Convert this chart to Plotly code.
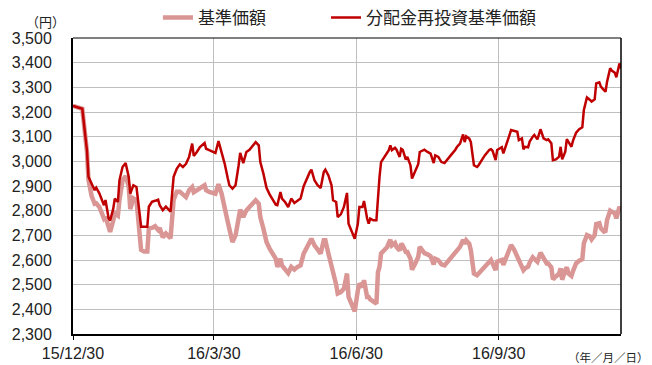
import plotly.graph_objects as go

dates = [
"2015-12-30","2016-01-05","2016-01-07","2016-01-08","2016-01-09","2016-01-11","2016-01-13","2016-01-14","2016-01-16","2016-01-19",
"2016-01-20","2016-01-22","2016-01-23","2016-01-25","2016-01-26","2016-01-28","2016-01-29","2016-01-31","2016-02-02","2016-02-04",
"2016-02-05","2016-02-07","2016-02-09","2016-02-10","2016-02-12","2016-02-14","2016-02-16","2016-02-17","2016-02-19","2016-02-21",
"2016-02-23","2016-02-24","2016-02-26","2016-02-28","2016-03-02","2016-03-04","2016-03-06","2016-03-08","2016-03-10","2016-03-12",
"2016-03-14","2016-03-16","2016-03-17","2016-03-19","2016-03-21","2016-03-24","2016-03-25","2016-03-27","2016-03-31","2016-04-02",
"2016-04-04","2016-04-06","2016-04-08","2016-04-09","2016-04-11","2016-04-13","2016-04-15","2016-04-16","2016-04-18","2016-04-20",
"2016-04-22","2016-04-24","2016-04-26","2016-04-28","2016-04-29","2016-05-01","2016-05-03","2016-05-05","2016-05-07","2016-05-09",
"2016-05-10","2016-05-12","2016-05-13","2016-05-15","2016-05-17","2016-05-19","2016-05-21","2016-05-23","2016-05-25","2016-05-27",
"2016-05-29","2016-05-31","2016-06-01","2016-06-03","2016-06-05","2016-06-07","2016-06-09","2016-06-10","2016-06-12","2016-06-14",
"2016-06-15","2016-06-17","2016-06-18","2016-06-20","2016-06-22","2016-06-24","2016-06-25","2016-06-27","2016-06-29","2016-07-01",
"2016-07-02","2016-07-04","2016-07-05","2016-07-07","2016-07-08","2016-07-09","2016-07-11","2016-07-13","2016-07-14","2016-07-15",
"2016-07-16","2016-07-18","2016-07-20","2016-07-21","2016-07-22","2016-07-23","2016-07-25","2016-07-26","2016-07-28","2016-07-29",
"2016-07-30","2016-08-01","2016-08-02","2016-08-04","2016-08-05","2016-08-07","2016-08-09","2016-08-10","2016-08-13","2016-08-15",
"2016-08-17","2016-08-19","2016-08-20","2016-08-22","2016-08-24","2016-08-26","2016-08-28","2016-08-30","2016-09-02","2016-09-03",
"2016-09-05","2016-09-07","2016-09-08","2016-09-09","2016-09-11","2016-09-12","2016-09-14","2016-09-16","2016-09-17","2016-09-19",
"2016-09-21","2016-09-24","2016-09-25","2016-09-26","2016-09-28","2016-09-29","2016-10-02","2016-10-03","2016-10-05","2016-10-07",
"2016-10-08","2016-10-10","2016-10-12","2016-10-13","2016-10-15","2016-10-16","2016-10-17","2016-10-19","2016-10-20","2016-10-22",
"2016-10-23","2016-10-25","2016-10-27","2016-10-29","2016-10-31","2016-11-01","2016-11-03","2016-11-04","2016-11-06","2016-11-08",
"2016-11-09","2016-11-10","2016-11-12","2016-11-13","2016-11-14","2016-11-16","2016-11-17","2016-11-19","2016-11-21","2016-11-23",
"2016-11-24","2016-11-26","2016-11-28","2016-11-29","2016-12-01","2016-12-02","2016-12-04","2016-12-05","2016-12-07","2016-12-08",
"2016-12-09","2016-12-11","2016-12-12","2016-12-14","2016-12-15","2016-12-16","2016-12-17","2016-12-18",
]

reinvested_nav = [
3225,3213,3100,3045,2937,2910,2883,2893,2870,2822,
2843,2769,2760,2808,2849,2835,2923,2977,2993,2937,
2869,2903,2896,2843,2735,2735,2735,2816,2836,2840,
2845,2822,2802,2816,2796,2937,2970,2988,2977,2990,
3018,3072,3022,3038,3058,3074,3051,3045,3034,3082,
3038,2990,2930,2903,2889,2903,2984,3034,2993,3038,
3047,3065,3078,3065,2997,2950,2893,2866,2842,2824,
2822,2876,2849,2835,2815,2849,2831,2839,2849,2899,
2930,2957,2966,2923,2903,2892,2957,2966,2943,2903,
2842,2835,2774,2785,2815,2872,2747,2720,2686,2747,
2815,2815,2839,2768,2747,2768,2761,2761,2869,2936,
2997,3018,3034,3045,3065,3045,3055,3047,3018,3051,
3047,3007,3018,2984,2930,2957,2988,3038,3047,3038,
3031,2993,3024,3018,2997,2993,3011,3024,3047,3058,
3072,3109,3078,3101,3092,3078,2984,2977,2984,3004,
3024,3047,3049,3043,3005,3046,3057,3032,3066,3107,
3127,3124,3120,3086,3093,3049,3059,3057,3080,3100,
3107,3089,3130,3093,3086,3089,3073,3005,3008,3019,
3059,3008,3039,3090,3080,3059,3084,3116,3130,3138,
3208,3259,3249,3242,3251,3316,3320,3303,3289,3282,
3323,3377,3368,3359,3341,3370,3397,3377,
]

nav = [
3225,3213,3098,3040,2925,2860,2828,2830,2815,2768,
2775,2722,2714,2760,2789,2780,2843,2923,2940,2897,
2806,2850,2843,2776,2641,2634,2634,2728,2730,2737,
2722,2730,2692,2708,2688,2843,2877,2877,2863,2855,
2883,2896,2875,2883,2896,2903,2883,2876,2869,2907,
2869,2801,2754,2727,2673,2700,2760,2804,2774,2801,
2815,2831,2842,2828,2774,2727,2673,2646,2626,2605,
2572,2605,2578,2565,2547,2572,2561,2572,2578,2626,
2653,2680,2686,2659,2639,2626,2680,2680,2626,2578,
2540,2500,2464,2470,2484,2545,2450,2423,2392,2477,
2504,2491,2518,2450,2450,2440,2430,2423,2551,2572,
2626,2642,2653,2669,2682,2659,2669,2653,2639,2666,
2659,2632,2632,2605,2561,2585,2612,2653,2628,2623,
2615,2582,2605,2599,2582,2578,2592,2605,2628,2639,
2653,2682,2666,2680,2666,2639,2545,2538,2545,2561,
2578,2596,2600,2586,2559,2593,2600,2580,2614,2643,
2661,2641,2614,2590,2573,2559,2566,2573,2590,2611,
2605,2593,2630,2603,2586,2586,2570,2522,2532,2545,
2566,2520,2559,2570,2545,2535,2555,2586,2597,2603,
2668,2701,2695,2684,2701,2746,2749,2728,2715,2718,
2762,2800,2796,2789,2769,2805,2816,2800,
]

series_names = ["基準価額", "分配金再投資基準価額"]
x_tick_vals = ["2015-12-30", "2016-03-30", "2016-06-30", "2016-09-30"]
x_tick_text = ["15/12/30", "16/3/30", "16/6/30", "16/9/30"]
x_range = ["2015-12-30", "2016-12-18"]
y_range = [2300, 3500]

LAT = "Liberation Sans, Arial, Noto Sans CJK JP, sans-serif"
CJK = "Noto Sans CJK JP, Liberation Sans, sans-serif"

fig = go.Figure()
fig.add_trace(go.Scatter(x=dates, y=nav, name=series_names[0], mode="lines",
                         line=dict(color="#D99694", width=4.5), legend="legend"))
fig.add_trace(go.Scatter(x=dates, y=reinvested_nav, name=series_names[1], mode="lines",
                         line=dict(color="#C00000", width=2.5), legend="legend2"))

leg_common = dict(orientation="h", xanchor="left", y=1.068, yanchor="middle",
                  font=dict(family=CJK, size=17, color="#222222"),
                  bgcolor="rgba(0,0,0,0)", borderwidth=0)

fig.update_layout(
    width=652, height=365,
    margin=dict(l=73, r=31, t=38, b=31, autoexpand=False),
    paper_bgcolor="white", plot_bgcolor="white",
    font=dict(family=LAT, size=16, color="#222222"),
    showlegend=True,
    legend=dict(x=0.155, **leg_common),
    legend2=dict(x=0.4617, **leg_common),
    xaxis=dict(type="date", range=x_range, tickvals=x_tick_vals, ticktext=x_tick_text,
               showgrid=True, gridcolor="#BFBFBF", gridwidth=1,
               showline=True, linecolor="black", linewidth=2,
               ticks="outside", ticklen=4, tickcolor="black", tickwidth=1,
               tickfont=dict(family=LAT, size=16, color="#222222"),
               zeroline=False, fixedrange=True),
    yaxis=dict(range=y_range, dtick=100, tick0=2300, tickformat=",d",
               showgrid=True, gridcolor="#BFBFBF", gridwidth=1,
               showline=True, linecolor="black", linewidth=2,
               ticks="", ticklabelstandoff=16,
               tickfont=dict(family=LAT, size=16, color="#222222"),
               zeroline=False, fixedrange=True),
    shapes=[
        dict(type="line", xref="paper", yref="paper", x0=0, x1=1, y0=1, y1=1,
             line=dict(color="black", width=1)),
        dict(type="line", xref="paper", yref="paper", x0=1, x1=1, y0=0, y1=1,
             line=dict(color="black", width=1.5)),
    ],
    annotations=[
        dict(text="（円）", xref="paper", yref="paper", x=-0.051, y=1.057,
             xanchor="center", yanchor="middle", showarrow=False,
             font=dict(family=CJK, size=13, color="#222222")),
        dict(text="（年／月／日）", xref="paper", yref="paper", x=1.0547, y=-0.078,
             xanchor="right", yanchor="middle", showarrow=False,
             font=dict(family=CJK, size=11.5, color="#222222")),
    ],
)

fig.write_html("out.html", config={"displayModeBar": False})
